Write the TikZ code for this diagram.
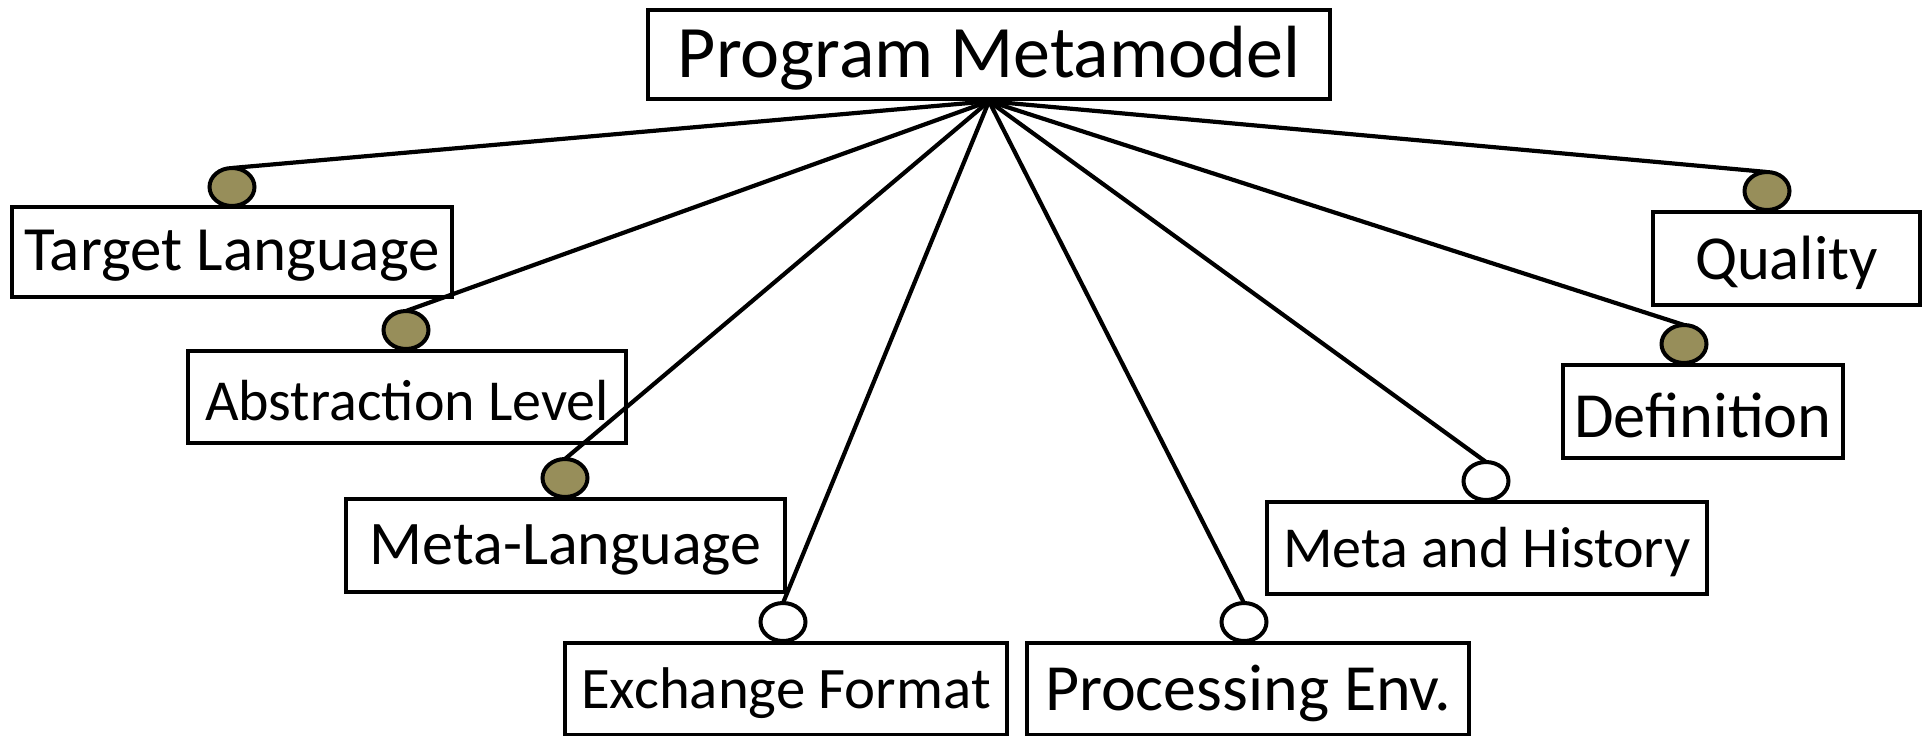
\documentclass[tikz,border=0pt]{standalone}
\usepackage{fontspec}
\setmainfont{Carlito}
\usetikzlibrary{shapes.geometric}
\definecolor{featfill}{HTML}{978E5A}
\tikzset{
  box/.style={draw, line width=2.25pt, inner sep=0pt, align=center},
  featmark/.style={ellipse, draw, line width=2pt, inner sep=0pt,
                   minimum width=22.5pt, minimum height=19pt},
  mandatory/.style={featmark, fill=featfill},
  optional/.style={featmark, fill=white},
  link/.style={line width=2.1pt},
}
\newcommand{\fs}[1]{\fontsize{#1}{#1}\selectfont}
% lower the label ink slightly while keeping its box size
\newcommand{\lbl}[1]{\raisebox{-2pt}[\height][\depth]{#1}}
\begin{document}
\begin{tikzpicture}[x=0.5pt, y=-0.5pt]
  \clip (0,0) rectangle (1929,735);
  \fill[white] (0,0) rectangle (1929,735);

  % root concept
  \node[box, minimum width=341pt, minimum height=44.5pt, font=\fs{37pt}]
    (root) at (989,54.5) {\lbl{Program Metamodel}};

  % feature boxes
  \node[box, minimum width=220pt, minimum height=45pt, font=\fs{31.5pt}]
    (tl) at (232,252) {\lbl{Target Language}};
  \node[box, minimum width=219pt, minimum height=46pt, font=\fs{29pt}]
    (al) at (407,397) {\lbl{Abstraction Level}};
  \node[box, minimum width=219.5pt, minimum height=46.5pt, font=\fs{31pt}]
    (ml) at (565.5,545.5) {\lbl{Meta-Language}};
  \node[box, minimum width=221pt, minimum height=46pt, font=\fs{29.4pt}]
    (ef) at (786,689) {\lbl{Exchange Format}};
  \node[box, minimum width=221pt, minimum height=46pt, font=\fs{33pt}]
    (pe) at (1248,689) {\lbl{Processing Env.}};
  \node[box, minimum width=220pt, minimum height=46pt, font=\fs{29pt}]
    (mh) at (1487,548) {\lbl{Meta and History}};
  \node[box, minimum width=140pt, minimum height=46.5pt, font=\fs{32.2pt}]
    (df) at (1703,411.5) {\lbl{Definition}};
  \node[box, minimum width=133.5pt, minimum height=46.5pt, font=\fs{31.3pt}]
    (ql) at (1786.5,258.5) {\lbl{Quality}};

  % connectors from the root to each feature marker
  \coordinate (hub) at (root.south);
  \path (232,187) coordinate (ptl) (406,330) coordinate (pal)
        (565,478) coordinate (pml) (783,622) coordinate (pef)
        (1244,622) coordinate (ppe) (1486,481) coordinate (pmh)
        (1684,344) coordinate (pdf) (1767,191) coordinate (pql);
  \foreach \p in {ptl,pal,pml,pef,ppe,pmh,pdf,pql}
    \draw[link] (hub) -- ([yshift=9.5pt]\p);

  % feature markers: filled = mandatory, hollow = optional
  \node[mandatory] (ctl) at (ptl) {};
  \node[mandatory] (cal) at (pal) {};
  \node[mandatory] (cml) at (pml) {};
  \node[optional]  (cef) at (pef) {};
  \node[optional]  (cpe) at (ppe) {};
  \node[optional]  (cmh) at (pmh) {};
  \node[mandatory] (cdf) at (pdf) {};
  \node[mandatory] (cql) at (pql) {};
\end{tikzpicture}
\end{document}
